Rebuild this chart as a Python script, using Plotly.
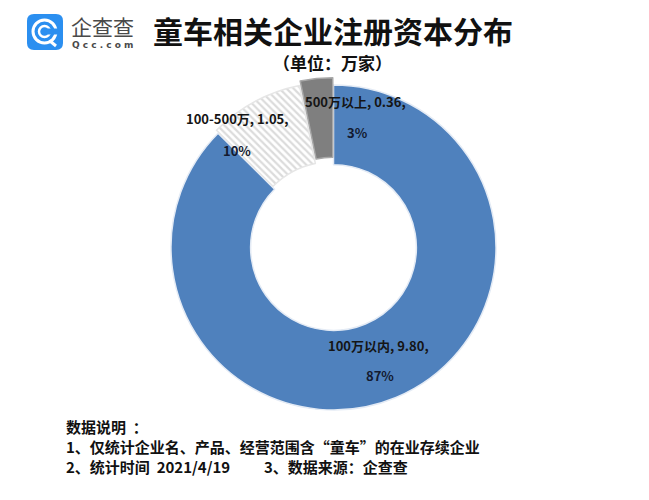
import plotly.graph_objects as go

# ---- data ----
categories = ["100万以内", "100-500万", "500万以上"]
values = [9.80, 1.05, 0.36]
pct_labels = ["87%", "10%", "3%"]
slice_colors = ["#4f81bd", "#ffffff", "#7f7f7f"]
hatch_shapes = ["", "\\", ""]
hatch_fg = ["#4f81bd", "#b8b8b8", "#7f7f7f"]
edge_colors = ["#e4ebf5", "#e6e6e6", "#a8a8a8"]
pulls = [0, 0.02, 0.045]

title_text = "童车相关企业注册资本分布"
subtitle_text = "（单位：万家）"
note_lines = [
    "数据说明\u00a0\u00a0：",
    "1、仅统计企业名、产品、经营范围含“童车”的在业存续企业",
]
note_time = "2、统计时间\u00a0 2021/4/19"
note_src = "3、数据来源：企查查"

W, H = 649, 500
FONT = "Noto Sans CJK SC"


def px(x):
    return x / W


def py(y):
    return 1 - y / H


# pie geometry (pixels)
cx, cy, R = 333.5, 247.5, 162.5
half = R * (1 + max(pulls))

fig = go.Figure()
fig.add_trace(go.Pie(
    labels=categories,
    values=values,
    sort=False,
    direction="clockwise",
    rotation=0,
    hole=0.51,
    pull=pulls,
    textinfo="none",
    hoverinfo="label+value+percent",
    marker=dict(
        colors=slice_colors,
        line=dict(color=edge_colors, width=1.5),
        pattern=dict(shape=hatch_shapes, fgcolor=hatch_fg,
                     bgcolor=slice_colors, size=5, solidity=0.45,
                     fillmode="overlay"),
    ),
    domain=dict(x=[px(cx - half), px(cx + half)],
                y=[py(cy + half), py(cy - half)]),
))

annotations = []
# slice labels
label_pos = [((378, 345), (380, 375)),
             ((237, 118), (237, 150)),
             ((355, 102), (357, 132))]
for cat, val, pct, (p1, p2) in zip(categories, values, pct_labels, label_pos):
    annotations.append(dict(x=px(p1[0]), y=py(p1[1]), xref="paper", yref="paper",
                            text=f"<b>{cat}, {val:.2f},</b>", showarrow=False,
                            xanchor="center", yanchor="middle",
                            font=dict(family=FONT, size=13, color="#151515")))
    annotations.append(dict(x=px(p2[0]), y=py(p2[1]), xref="paper", yref="paper",
                            text=f"<b>{pct}</b>", showarrow=False,
                            xanchor="center", yanchor="middle",
                            font=dict(family=FONT, size=13, color="#131a30")))

# title & subtitle
annotations.append(dict(x=px(332.5), y=py(30.5), xref="paper", yref="paper",
                        text=f"<b>{title_text}</b>", showarrow=False,
                        xanchor="center", yanchor="middle",
                        borderpad=0, borderwidth=0,
                        font=dict(family=FONT, size=30, color="#111111")))
annotations.append(dict(x=px(332), y=py(62), xref="paper", yref="paper",
                        text=f"<b>{subtitle_text}</b>", showarrow=False,
                        xanchor="center", yanchor="middle",
                        borderpad=0, borderwidth=0,
                        font=dict(family=FONT, size=17, color="#111111")))

# footer notes
for i, line in enumerate(note_lines):
    annotations.append(dict(x=px(64), y=py(426 + 20 * i), xref="paper", yref="paper",
                            text=f"<b>{line}</b>", showarrow=False,
                            xanchor="left", yanchor="middle",
                            font=dict(family=FONT, size=15, color="#111111")))
annotations.append(dict(x=px(64), y=py(466), xref="paper", yref="paper",
                        text=f"<b>{note_time}</b>", showarrow=False,
                        xanchor="left", yanchor="middle",
                        font=dict(family=FONT, size=15, color="#111111")))
annotations.append(dict(x=px(262), y=py(466), xref="paper", yref="paper",
                        text=f"<b>{note_src}</b>", showarrow=False,
                        xanchor="left", yanchor="middle",
                        font=dict(family=FONT, size=15, color="#111111")))

# logo text
annotations.append(dict(x=px(69), y=py(26), xref="paper", yref="paper",
                        text="企查查", showarrow=False,
                        xanchor="left", yanchor="middle",
                        font=dict(family=FONT, size=21, color="#4a4a4a")))
annotations.append(dict(x=px(70), y=py(45), xref="paper", yref="paper",
                        text="<b>Q c c . c o m</b>", showarrow=False,
                        xanchor="left", yanchor="middle",
                        font=dict(family="DejaVu Sans", size=9, color="#4a4a4a")))

# logo icon shapes
lx0, ly0, lx1, ly1 = 27, 14, 63, 50
r = 7
path = (f"M {px(lx0 + r)} {py(ly0)} L {px(lx1 - r)} {py(ly0)} "
        f"Q {px(lx1)} {py(ly0)} {px(lx1)} {py(ly0 + r)} "
        f"L {px(lx1)} {py(ly1 - r)} Q {px(lx1)} {py(ly1)} {px(lx1 - r)} {py(ly1)} "
        f"L {px(lx0 + r)} {py(ly1)} Q {px(lx0)} {py(ly1)} {px(lx0)} {py(ly1 - r)} "
        f"L {px(lx0)} {py(ly0 + r)} Q {px(lx0)} {py(ly0)} {px(lx0 + r)} {py(ly0)} Z")
shapes = [
    dict(type="path", xref="paper", yref="paper", path=path,
         fillcolor="#2b8ff0", line=dict(width=0)),
    dict(type="circle", xref="paper", yref="paper",
         x0=px(33), x1=px(56), y0=py(43), y1=py(20),
         line=dict(color="white", width=3)),
    dict(type="circle", xref="paper", yref="paper",
         x0=px(39), x1=px(50), y0=py(37), y1=py(26),
         line=dict(color="white", width=2.5)),
    dict(type="rect", xref="paper", yref="paper",
         x0=px(47), x1=px(58), y0=py(34.5), y1=py(28.5),
         fillcolor="#2b8ff0", line=dict(width=0)),
    dict(type="line", xref="paper", yref="paper",
         x0=px(50), x1=px(56), y0=py(41), y1=py(46),
         line=dict(color="white", width=3)),
]

fig.update_layout(
    width=W, height=H,
    margin=dict(l=0, r=0, t=0, b=0),
    paper_bgcolor="white", plot_bgcolor="white",
    showlegend=False,
    annotations=annotations,
    shapes=shapes,
)

fig.write_html("out.html")
